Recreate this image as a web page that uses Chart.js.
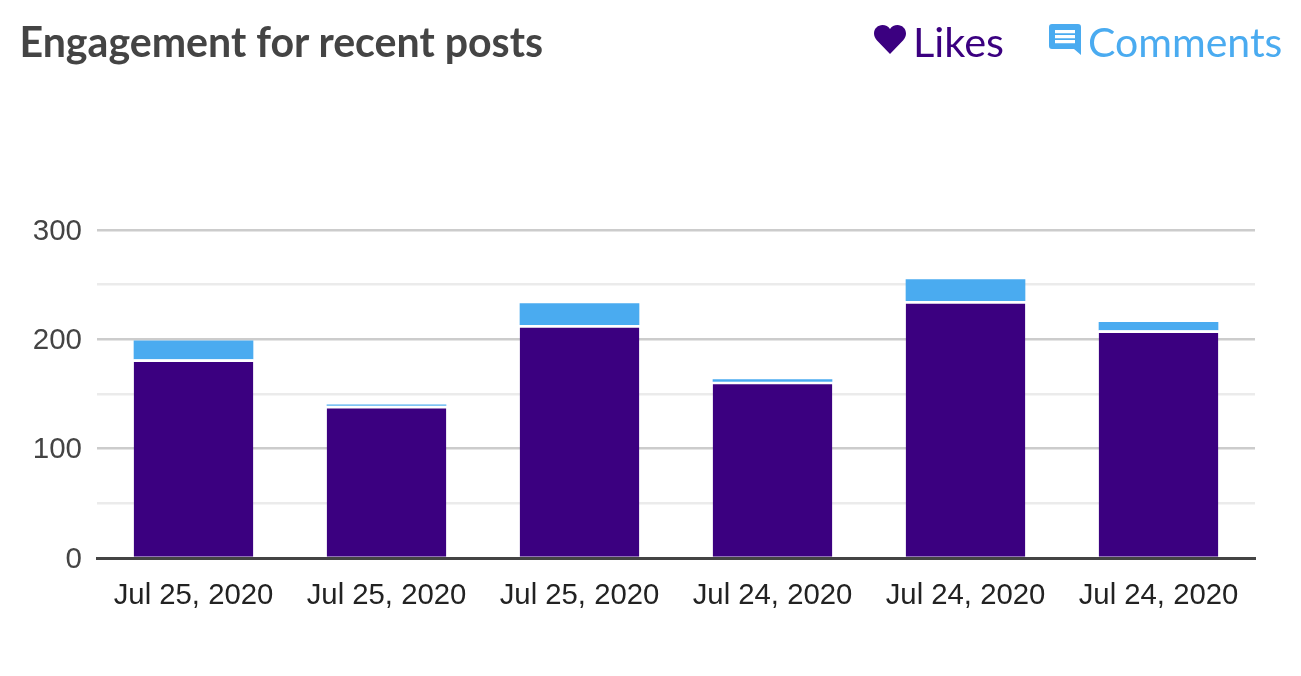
<!DOCTYPE html>
<html><head><meta charset="utf-8">
<script src="https://cdn.jsdelivr.net/npm/chart.js@4"></script>
<style>
html,body{margin:0;padding:0;background:#fff;width:1301px;height:676px;overflow:hidden}
#wrap{position:absolute;left:0;top:0;width:1301px;height:676px}
.t{position:absolute;font-family:Lato,sans-serif;white-space:nowrap;line-height:1}
#title{left:19.500px;top:21px;font-size:41.100px;font-weight:700;color:#444}
#likes{left:913px;top:21px;font-size:41.500px;color:#3b0080}
#comments{left:1088px;top:21px;font-size:41px;color:#4aabf0}
svg{position:absolute}
</style></head><body>
<div id="wrap"><canvas id="c" width="1301" height="676"></canvas></div>
<div class="t" id="title">Engagement for recent posts</div>
<svg style="left:874px;top:25px" width="32" height="29" viewBox="0 0 32 29"><path fill="#3b0080" d="M16 29 L3 15.500 C1 13 0 11 0 8.500 C0 3.500 4 0 8.500 0 C11.500 0 14.500 1.500 16 4 C17.500 1.500 20.500 0 23.500 0 C28 0 32 3.500 32 8.500 C32 11 31 13 29 15.500z"/></svg>
<div class="t" id="likes">Likes</div>
<svg style="left:1049px;top:24px" width="33" height="32" viewBox="0 0 33 32"><path fill="#4aabf0" d="M3 0h26a3 3 0 0 1 3 3v28l-7-6H3a3 3 0 0 1-3-3V3a3 3 0 0 1 3-3z"/><path fill="#fff" d="M6 6h20v3.200H6zM6 11h20v3.200H6zM6 16h20v3.200H6z"/></svg>
<div class="t" id="comments">Comments</div>
<script>
const categories = ["Jul 25, 2020","Jul 25, 2020","Jul 25, 2020","Jul 24, 2020","Jul 24, 2020","Jul 24, 2020"];
const likes = [181.7,139.2,213.1,161.3,235,208.3];
const comments = [17.2,1.1,19.9,2.2,19.9,7.6];
const yMax = 300;
const yStep = 50;
const yLabelStep = 100;
new Chart(document.getElementById('c'),{
  type:'bar',
  data:{labels:categories,datasets:[
    {label:'Likes',data:likes,backgroundColor:'#3b0080',borderColor:'#fff',borderWidth:{top:2.7,left:0,right:0,bottom:0},borderSkipped:false,stack:'a',barPercentage:0.62,categoryPercentage:1},
    {label:'Comments',data:comments,backgroundColor:'#4aabf0',borderWidth:0,stack:'a',barPercentage:0.62,categoryPercentage:1}
  ]},
  options:{
    responsive:false,animation:false,
    layout:{padding:{left:0,right:46,top:230,bottom:0}},
    plugins:{legend:{display:false},title:{display:false},tooltip:{enabled:false}},
    scales:{
      x:{stacked:true,
        grid:{display:false},border:{display:true,color:'#444',width:3,z:1},
        ticks:{color:'#222',font:{family:'"Liberation Sans"',size:29.3},padding:12,maxRotation:0,autoSkip:false},
        afterFit(s){s.height=118;}
      },
      y:{stacked:true,min:0,max:yMax,
        border:{display:false},
        grid:{drawTicks:false,
          color:c=>c.tick.value===0?'rgba(0,0,0,0)':(c.tick.value%yLabelStep===0?'#ccc':'#ebebeb'),
          lineWidth:2.5},
        ticks:{stepSize:yStep,autoSkip:false,color:'#444',font:{family:'"Liberation Sans"',size:29.5},padding:15,labelOffset:1.5,
          callback:v=>v%yLabelStep===0?v:''},
        afterFit(s){s.width=97;}
      }
    }
  }
});
</script>
</body></html>
